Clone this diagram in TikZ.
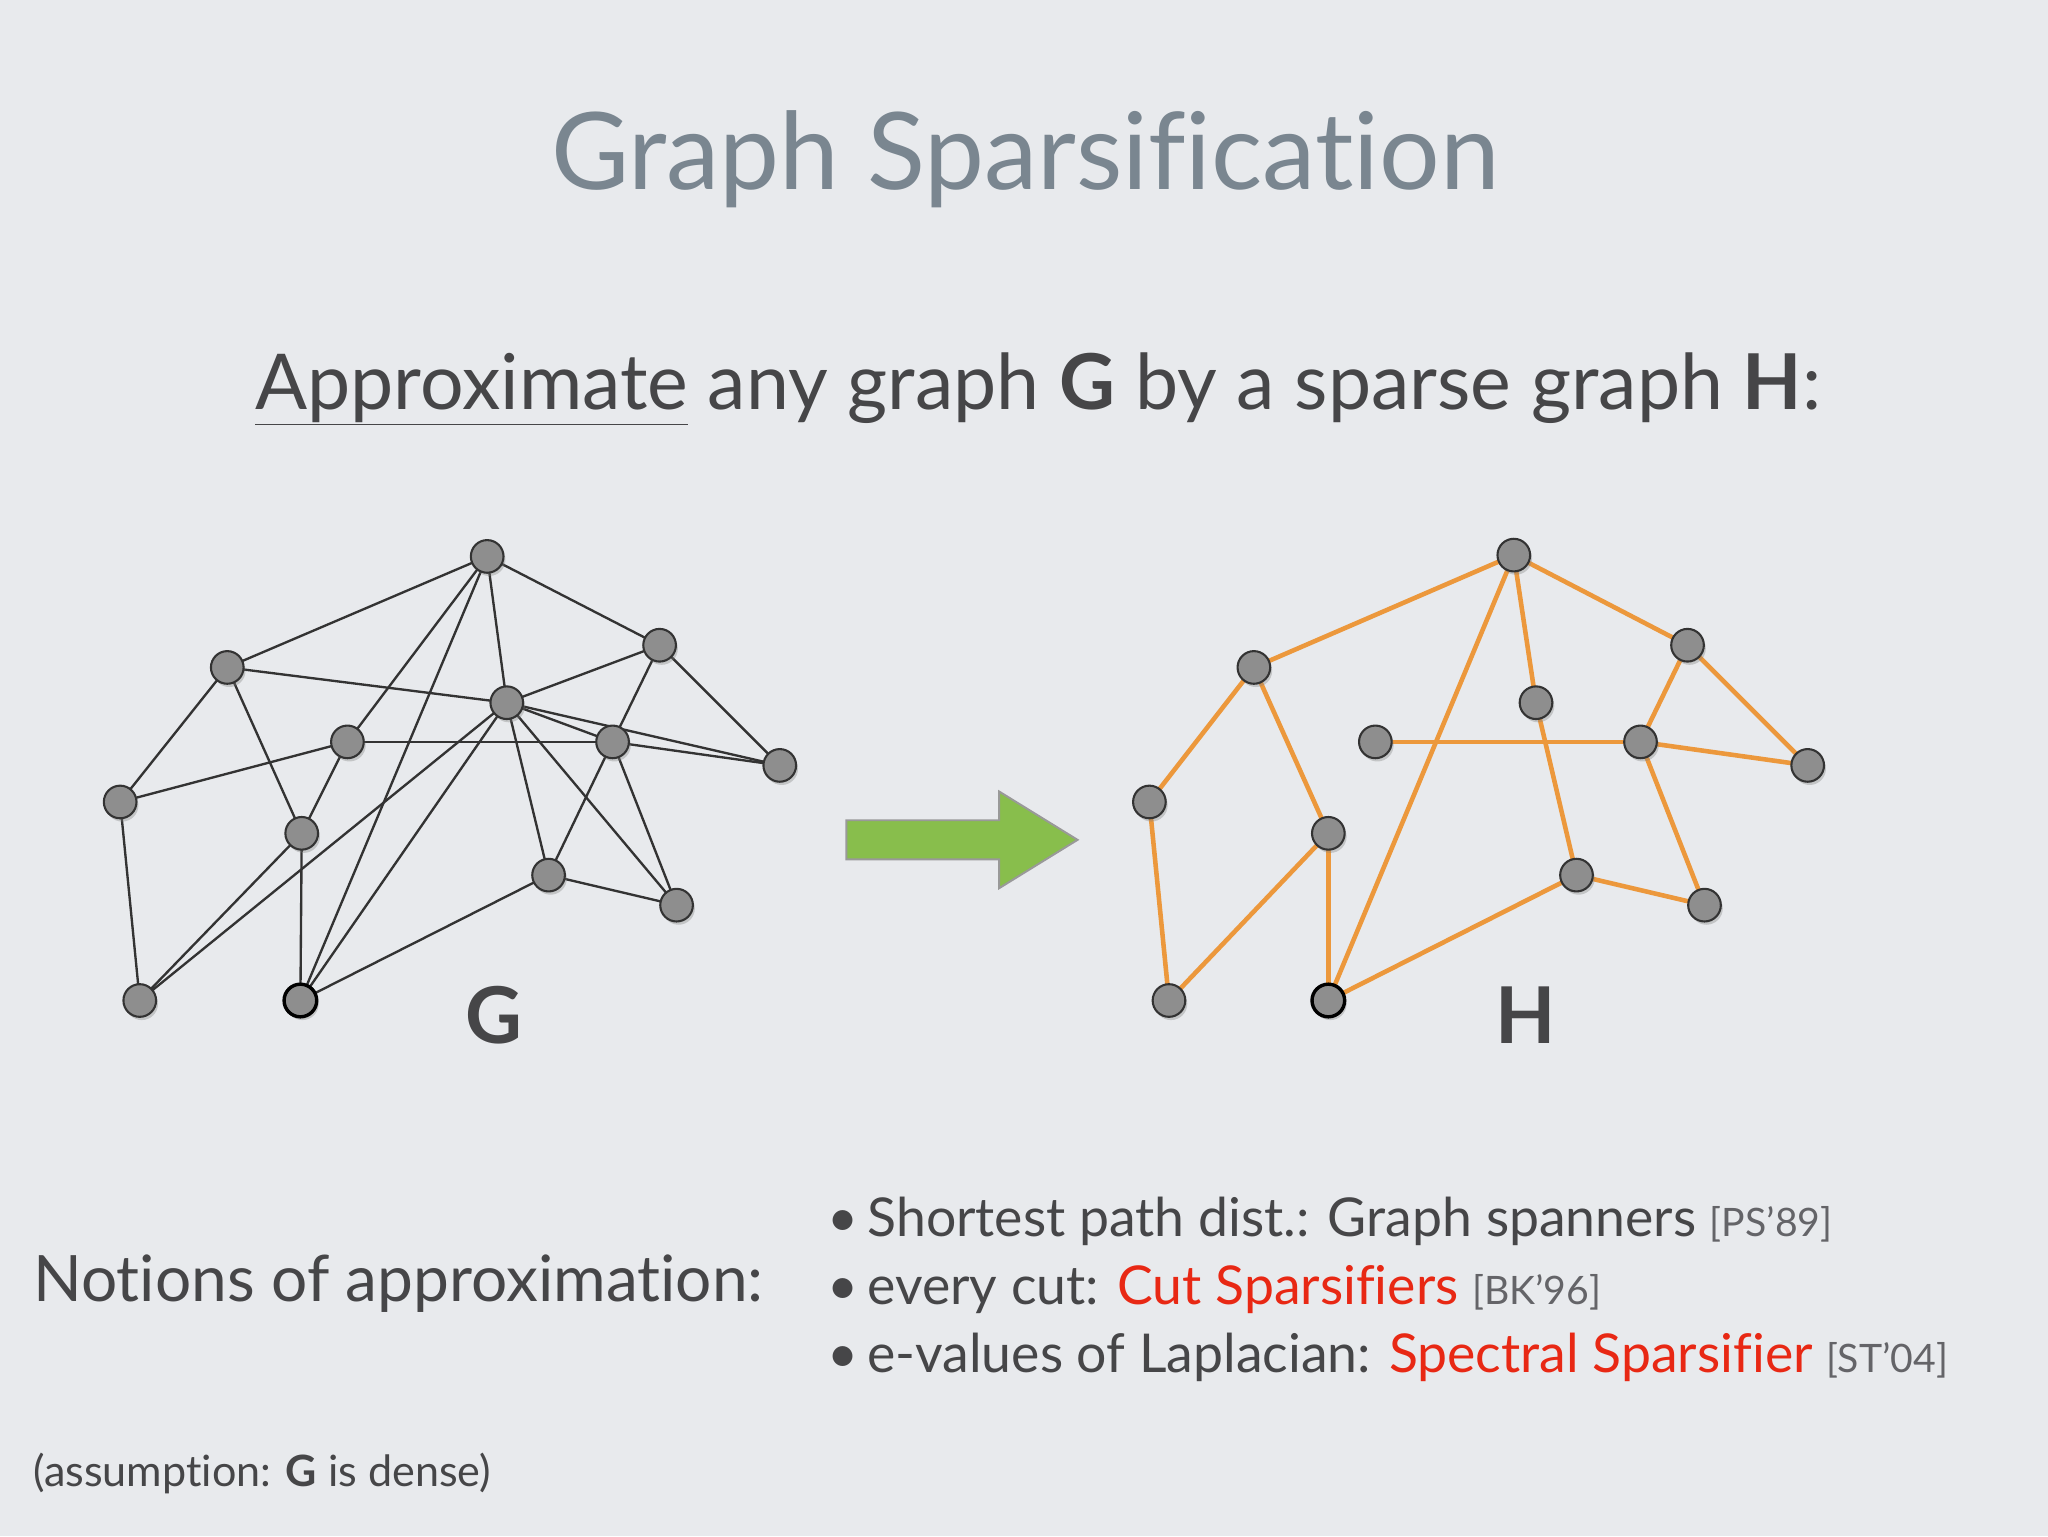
\documentclass[tikz,border=0pt]{standalone}
\usepackage{fontspec}
\setmainfont{Lato}[Ligatures={NoCommon}]
\usetikzlibrary{shadows}
\definecolor{bgc}{RGB}{232,234,237}
\definecolor{titc}{RGB}{122,134,144}
\definecolor{txtc}{RGB}{70,70,72}
\definecolor{refc}{RGB}{100,100,104}
\definecolor{redc}{RGB}{232,40,20}
\definecolor{orc}{RGB}{236,152,60}
\definecolor{grn}{RGB}{136,190,76}
\definecolor{ndc}{RGB}{142,142,142}
\tikzset{
  vtx/.style={circle,minimum size=25pt,inner sep=0pt,fill=ndc,draw=black!80,line width=1.6pt,drop shadow={opacity=0.35,shadow xshift=1.5pt,shadow yshift=-2.5pt}},
  ge/.style={draw=black!80,line width=1.8pt},
  he/.style={draw=orc,line width=3.5pt},
  lab/.style={font=\fontsize{60}{60}\selectfont\bfseries,text=txtc},
}
\begin{document}
\begin{tikzpicture}[x=1pt,y=-1pt]
\fill[bgc] (0,0) rectangle (1568,1176);
\useasboundingbox (0,0) rectangle (1568,1176);
\node[text=titc,font=\fontsize{82}{82}\selectfont] (title) at (785,122) {Graph Sparsification};
\node[text=txtc,font=\fontsize{59}{59}\selectfont] (sub) at (795,298) {\underline{Approximate} any graph \textbf{G} by a sparse graph \textbf{H}:};
% G
\foreach \n/\x/\y in {a/373/426,b/174/511,c/388/538,d/505/494,e/266/568,f/469/568,g/597/586,h/92/614,i/231/638,j/420/670,k/518/693,l/107/766,m/230/766}
  \coordinate (G\n) at (\x,\y);
\foreach \u/\v in {a/b,a/d,a/c,a/e,a/m,b/c,b/h,b/i,c/d,c/f,c/g,c/j,c/k,c/l,c/m,d/f,d/g,f/g,e/f,e/h,e/i,h/l,i/l,i/m,f/j,f/k,j/k,j/m}
  \draw[ge] (G\u) -- (G\v);
\foreach \n in {a,b,c,d,e,f,g,h,i,j,k,l}
  \node[vtx] (g\n) at (G\n) {};
\node[vtx,line width=2.6pt,draw=black] (gm) at (Gm) {};
\node[lab] (lG) at (378,777) {G};
% H
\foreach \n/\x/\y in {a/1159/425,b/960/511,c/1176/538,d/1292/494,e/1053/568,f/1256/568,g/1384/586,h/880/614,i/1017/638,j/1207/670,k/1305/693,l/895/766,m/1017/766}
  \coordinate (H\n) at (\x,\y);
\foreach \u/\v in {a/b,a/d,a/c,a/m,b/h,b/i,h/l,i/l,i/m,e/f,c/j,d/f,d/g,f/g,f/k,j/k,j/m}
  \draw[he] (H\u) -- (H\v);
\foreach \n in {a,b,c,d,e,f,g,h,i,j,k,l}
  \node[vtx] (h\n) at (H\n) {};
\node[vtx,line width=2.6pt,draw=black] (hm) at (Hm) {};
\node[lab] (lH) at (1168,777) {H};
% arrow
\draw[fill=grn,draw=black!40,line width=1.5pt,line join=miter] (648,628) -- (765,628) -- (765,606) -- (825,643) -- (765,680) -- (765,658) -- (648,658) -- cycle;
% bottom
\node[anchor=west,text=txtc,font=\fontsize{49}{49}\selectfont] (notions) at (22,983) {Notions of approximation:};
\node[anchor=west,text=txtc,font=\fontsize{41}{52}\selectfont,align=left] (bul) at (630,987) {%
\textbullet\,Shortest path dist.: Graph spanners {\fontsize{30}{30}\selectfont\color{refc}[PS'89]}\\
\textbullet\,every cut: {\color{redc}Cut Sparsifiers} {\fontsize{30}{30}\selectfont\color{refc}[BK'96]}\\
\textbullet\,e-values of Laplacian: {\color{redc}Spectral Sparsifier} {\fontsize{30}{30}\selectfont\color{refc}[ST'04]}};
\node[anchor=west,text=txtc,font=\fontsize{33}{33}\selectfont] (assume) at (22,1128) {(assumption: \textbf{G} is dense)};
\end{tikzpicture}
\end{document}
